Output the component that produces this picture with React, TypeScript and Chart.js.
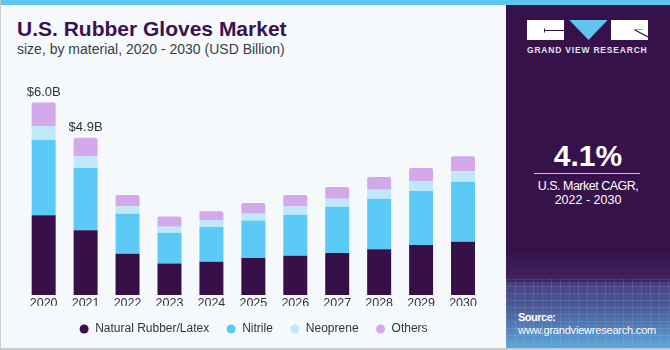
import React, { useEffect, useRef } from "react";
import { Chart, registerables } from "chart.js";

Chart.register(...registerables);

const years = ["2020", "2021", "2022", "2023", "2024", "2025", "2026", "2027", "2028", "2029", "2030"];
const naturalRubber = [2.49, 2.02, 1.29, 0.98, 1.04, 1.15, 1.22, 1.31, 1.43, 1.56, 1.66];
const nitrile = [2.34, 1.94, 1.24, 0.96, 1.08, 1.17, 1.28, 1.44, 1.57, 1.68, 1.87];
const neoprene = [0.44, 0.37, 0.24, 0.19, 0.22, 0.21, 0.26, 0.25, 0.28, 0.31, 0.33];
const others = [0.73, 0.57, 0.35, 0.32, 0.27, 0.34, 0.36, 0.37, 0.40, 0.41, 0.47];
const totalLabels = ["$6.0B", "$4.9B", "", "", "", "", "", "", "", "", ""];

const FONT = '"Liberation Sans", Arial, sans-serif';
const PURPLE = "#37124a";

const totalLabelPlugin = {
  id: "totalLabels",
  afterDatasetsDraw(chart: any) {
    const ctx = chart.ctx;
    const meta = chart.getDatasetMeta(chart.data.datasets.length - 1);
    meta.data.forEach((bar: any, i: number) => {
      const t = totalLabels[i];
      if (!t) return;
      ctx.save();
      ctx.font = `13px ${FONT}`;
      ctx.fillStyle = "#333333";
      ctx.textAlign = "center";
      ctx.textBaseline = "alphabetic";
      ctx.fillText(t, bar.x, bar.y - 7);
      ctx.restore();
    });
  },
};

function BarChart() {
  const ref = useRef<HTMLCanvasElement | null>(null);
  useEffect(() => {
    if (!ref.current) return;
    const chart = new Chart(ref.current, {
      type: "bar",
      data: {
        labels: years,
        datasets: [
          { label: "Natural Rubber/Latex", data: naturalRubber, backgroundColor: "#37104a", borderWidth: 0 },
          { label: "Nitrile", data: nitrile, backgroundColor: "#5ccaf6", borderWidth: 0 },
          { label: "Neoprene", data: neoprene, backgroundColor: "#bfe9fa", borderWidth: 0 },
          {
            label: "Others",
            data: others,
            backgroundColor: "#d3a9ec",
            borderWidth: 0,
            borderRadius: { topLeft: 2, topRight: 2, bottomLeft: 0, bottomRight: 0 },
          },
        ],
      },
      options: {
        animation: false,
        responsive: false,
        maintainAspectRatio: false,
        datasets: { bar: { categoryPercentage: 1, barPercentage: 0.572 } },
        layout: { padding: { top: 10.5, left: 22.7, right: 22, bottom: 5 } },
        plugins: {
          legend: {
            position: "bottom",
            labels: {
              usePointStyle: true,
              pointStyle: "circle",
              boxWidth: 10,
              boxHeight: 6.4,
              padding: 17,
              color: "#333333",
              font: { size: 12, family: FONT },
            },
          },
          tooltip: { enabled: false },
        },
        scales: {
          x: {
            stacked: true,
            grid: { display: false, drawTicks: false },
            border: { display: false },
            ticks: { color: "#333333", font: { size: 12.5, family: FONT }, padding: 1 },
            afterFit: (s: any) => {
              s.height = 11;
            },
          },
          y: { stacked: true, display: false, min: 0, max: 7 },
        },
      },
      plugins: [totalLabelPlugin],
    } as any);
    return () => chart.destroy();
  }, []);
  return (
    <canvas
      ref={ref}
      width={506}
      height={290}
      style={{ position: "absolute", left: 0, top: 60, width: 506, height: 290 }}
    />
  );
}

export default function App() {
  const abs = (o: any) => ({ position: "absolute" as const, ...o });
  return (
    <div
      style={{
        position: "fixed",
        left: 0,
        top: 0,
        width: 670,
        height: 350,
        overflow: "hidden",
        background: "#f5f9fc",
        fontFamily: FONT,
      }}
    >
      <BarChart />
      <div style={abs({ left: 0, top: 0, width: 670, height: 5, background: "#5cc6ef" })} />
      <div style={abs({ left: 0, top: 0, width: 1, height: 350, background: "#cccccc" })} />
      <div
        style={abs({
          left: 17,
          top: 18,
          fontSize: 21,
          lineHeight: "21px",
          fontWeight: 700,
          color: "#3a1250",
          whiteSpace: "nowrap",
        })}
      >
        U.S. Rubber Gloves Market
      </div>
      <div
        style={abs({ left: 17, top: 42, fontSize: 14, lineHeight: "14px", color: "#3d3d3d", whiteSpace: "nowrap" })}
      >
        size, by material, 2020 - 2030 (USD Billion)
      </div>

      {/* right panel */}
      <div
        style={abs({
          left: 506,
          top: 5,
          width: 164,
          height: 345,
          background: `linear-gradient(to bottom, ${PURPLE} 0px, ${PURPLE} 245px, #3e2560 276px, #47407e 278px, #4d5f9c 305px, #5584bd 325px, #5cacdf 345px)`,
        })}
      />
      <div
        style={abs({
          left: 506,
          top: 278,
          width: 164,
          height: 72,
          opacity: 0.5,
          backgroundImage:
            "repeating-linear-gradient(90deg, rgba(255,255,255,0.18) 0px, rgba(255,255,255,0.18) 1px, transparent 1px, transparent 9px), repeating-linear-gradient(0deg, rgba(255,255,255,0.18) 0px, rgba(255,255,255,0.18) 1px, transparent 1px, transparent 7px)",
        })}
      />
      <svg style={abs({ left: 527, top: 20 })} width={121} height={20} viewBox="0 0 121 20">
        <rect x={0} y={0} width={37} height={20} fill="#ffffff" />
        <line x1={17} y1={10.5} x2={37} y2={10.5} stroke={PURPLE} strokeWidth={1} />
        <line x1={17.5} y1={8.5} x2={17.5} y2={12.5} stroke={PURPLE} strokeWidth={1} />
        <polygon points="42.3,0 80.7,0 61.5,20" fill="#5cc6ef" />
        <rect x={84} y={0} width={37} height={20} fill="#ffffff" />
        <line x1={107} y1={9.5} x2={121} y2={17} stroke={PURPLE} strokeWidth={1.2} />
        <line x1={107} y1={9.5} x2={116} y2={9.5} stroke="#a898b8" strokeWidth={1} />
      </svg>
      <div
        style={abs({
          left: 527,
          top: 46,
          fontSize: 8.5,
          lineHeight: "9px",
          fontWeight: 700,
          letterSpacing: "0.8px",
          color: "#e6e2ec",
          whiteSpace: "nowrap",
        })}
      >
        GRAND VIEW RESEARCH
      </div>
      <div
        style={abs({
          left: 506,
          width: 164,
          top: 141.3,
          textAlign: "center",
          fontSize: 30,
          lineHeight: "30px",
          fontWeight: 700,
          color: "#ffffff",
        })}
      >
        4.1%
      </div>
      <div style={abs({ left: 534, top: 173, width: 106, height: 1, background: "#c9c1d2" })} />
      <div
        style={abs({
          left: 506,
          width: 164,
          top: 178.7,
          textAlign: "center",
          fontSize: 12.5,
          lineHeight: "14px",
          color: "#ffffff",
          letterSpacing: "-0.5px",
          whiteSpace: "nowrap",
        })}
      >
        U.S. Market CAGR,
      </div>
      <div
        style={abs({
          left: 506,
          width: 164,
          top: 192.7,
          textAlign: "center",
          fontSize: 12.5,
          lineHeight: "14px",
          color: "#ffffff",
          whiteSpace: "nowrap",
        })}
      >
        2022 - 2030
      </div>
      <div
        style={abs({
          left: 518,
          top: 311.4,
          fontSize: 11,
          lineHeight: "12px",
          fontWeight: 700,
          letterSpacing: "-0.5px",
          color: "#ffffff",
        })}
      >
        Source:
      </div>
      <div
        style={abs({
          left: 518,
          top: 323.7,
          fontSize: 11,
          lineHeight: "12px",
          letterSpacing: "-0.2px",
          color: "#ffffff",
          whiteSpace: "nowrap",
        })}
      >
        www.grandviewresearch.com
      </div>
      <div style={abs({ left: 0, top: 348, width: 670, height: 2, background: "#cccccc" })} />
    </div>
  );
}
